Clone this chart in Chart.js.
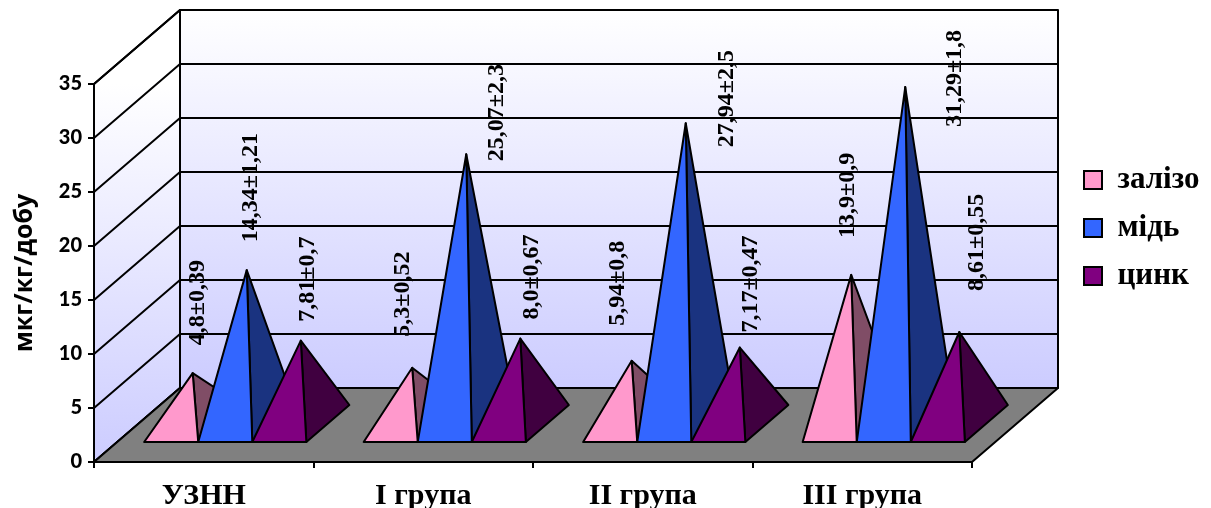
<!DOCTYPE html>
<html>
<head>
<meta charset="utf-8">
<style>
  html, body { margin: 0; padding: 0; background: #fff; }
  #chart { display: block; }
</style>
<script src="https://cdn.jsdelivr.net/npm/chart.js@4/dist/chart.umd.min.js"></script>
</head>
<body>
<canvas id="chart" width="1211" height="508"></canvas>
<script>
// Chart values
const categories = ['УЗНН', 'I група', 'II група', 'III група'];
const iron = [4.8, 5.3, 5.94, 13.9];
const copper = [14.34, 25.07, 27.94, 31.29];
const zinc = [7.81, 8.0, 7.17, 8.61];
const ironLabels = ['4,8±0,39', '5,3±0,52', '5,94±0,8', '13,9±0,9'];
const copperLabels = ['14,34±1,21', '25,07±2,3', '27,94±2,5', '31,29±1,8'];
const zincLabels = ['7,81±0,7', '8,0±0,67', '7,17±0,47', '8,61±0,55'];

// 3D look of the plot box
const depthX = 86;
const depthY = 74;
const serif = '"Liberation Serif", serif';
const sans = '"Open Sans", sans-serif';

// label placement relative to the pyramid tip
const labelDx = [[5, -9, -14, -3], [4, 31, 41, 50], [7, 11, 11, 17]];
const labelGap = [[28, 31, 35, 37], [28, -7, -24, -40], [19, 19, 15, 41]];
const darkColors = ['#804d66', '#1a3380', '#400040'];

function polygon(ctx, pts, fill) {
    ctx.beginPath();
    pts.forEach((p, i) => i ? ctx.lineTo(p[0], p[1]) : ctx.moveTo(p[0], p[1]));
    ctx.closePath();
    ctx.fillStyle = fill;
    ctx.fill();
    ctx.stroke();
}

function wallGradient(ctx, top, bottom) {
    const g = ctx.createLinearGradient(0, top, 0, bottom);
    g.addColorStop(0, '#ffffff');
    g.addColorStop(1, '#ccccff');
    return g;
}

// Side wall, back wall and floor
const wallsPlugin = {
    id: 'walls',
    beforeDraw(chart) {
        const ctx = chart.ctx;
        const { left, right, top, bottom } = chart.chartArea;
        const y = chart.scales.y;
        ctx.save();
        ctx.strokeStyle = '#000';
        ctx.lineWidth = 2;
        ctx.lineJoin = 'round';
        polygon(ctx, [[left, top], [left + depthX, top - depthY], [left + depthX, bottom - depthY], [left, bottom]],
            wallGradient(ctx, top, bottom));
        polygon(ctx, [[left + depthX, top - depthY], [right + depthX, top - depthY], [right + depthX, bottom - depthY], [left + depthX, bottom - depthY]],
            wallGradient(ctx, top - depthY, bottom - depthY));
        y.ticks.forEach(t => {
            const py = y.getPixelForValue(t.value);
            ctx.beginPath();
            ctx.moveTo(left, py);
            ctx.lineTo(left + depthX, py - depthY);
            ctx.lineTo(right + depthX, py - depthY);
            ctx.stroke();
        });
        polygon(ctx, [[left, bottom], [right, bottom], [right + depthX, bottom - depthY], [left + depthX, bottom - depthY]], '#808080');
        ctx.restore();
    }
};

// Bars are replaced by pyramids, positions come from the bar elements and the y scale
const pyramidPlugin = {
    id: 'pyramids',
    beforeDatasetsDraw(chart) {
        const ctx = chart.ctx;
        const y = chart.scales.y;
        const base = y.getPixelForValue(0);
        const tips = [];
        ctx.save();
        ctx.strokeStyle = '#000';
        ctx.lineWidth = 2;
        ctx.lineJoin = 'round';
        categories.forEach((c, i) => {
            chart.data.datasets.forEach((ds, d) => {
                const bar = chart.getDatasetMeta(d).data[i];
                const half = bar.width / 2;
                const frontY = base - depthY * 0.27;
                const frontX = bar.x + depthX * 0.25;
                const tipX = bar.x + depthX * 0.5;
                const tipY = y.getPixelForValue(ds.data[i]) - depthY * 0.5;
                polygon(ctx, [[frontX + half, frontY], [frontX + half + depthX * 0.5, frontY - depthY * 0.5], [tipX, tipY]], darkColors[d]);
                polygon(ctx, [[frontX - half, frontY], [frontX + half, frontY], [tipX, tipY]], ds.backgroundColor);
                tips.push({ x: tipX + labelDx[d][i], y: tipY - labelGap[d][i], text: ds.valueLabels[i] });
            });
        });
        ctx.fillStyle = '#000';
        ctx.font = 'bold 24px ' + serif;
        ctx.textAlign = 'left';
        ctx.textBaseline = 'middle';
        tips.forEach(t => {
            ctx.save();
            ctx.translate(t.x, t.y);
            ctx.rotate(-Math.PI / 2);
            ctx.fillText(t.text, 0, 0);
            ctx.restore();
        });
        ctx.restore();
        return false;
    }
};

// Legend sits higher than the chart's middle and right of the back wall
const legendPlacePlugin = {
    id: 'legendPlace',
    afterLayout(chart) {
        chart.legend.left = 1067;
        chart.legend.bottom = chart.legend.top + 288;
    }
};

const makeDataset = (label, data, valueLabels, color) => ({
    label, data, valueLabels,
    backgroundColor: color,
    borderColor: '#000',
    borderWidth: 2,
    categoryPercentage: 0.7389,
    barPercentage: 1
});

new Chart(document.getElementById('chart'), {
    type: 'bar',
    data: {
        labels: categories,
        datasets: [
            makeDataset('залізо', iron, ironLabels, '#ff99cc'),
            makeDataset('мідь', copper, copperLabels, '#3366ff'),
            makeDataset('цинк', zinc, zincLabels, '#800080')
        ]
    },
    plugins: [wallsPlugin, pyramidPlugin, legendPlacePlugin],
    options: {
        responsive: false,
        animation: false,
        layout: { padding: { top: 84, left: 0, right: 0, bottom: 0 } },
        plugins: {
            tooltip: { enabled: false },
            legend: {
                position: 'right',
                labels: {
                    color: '#000',
                    font: { family: serif, weight: 'bold', size: 31 },
                    boxWidth: 18,
                    boxHeight: 18,
                    padding: 17
                }
            }
        },
        scales: {
            x: {
                grid: { offset: true, drawOnChartArea: false, color: '#000', lineWidth: 2, tickLength: 6 },
                border: { color: '#000', width: 2 },
                ticks: { color: '#000', padding: 10, maxRotation: 0, font: { family: serif, weight: 'bold', size: 30 } },
                afterFit(scale) { scale.height = 46; }
            },
            y: {
                min: 0,
                max: 35,
                grid: { drawOnChartArea: false, color: '#000', lineWidth: 2, tickLength: 6 },
                border: { color: '#000', width: 2 },
                ticks: { stepSize: 5, color: '#000', padding: 6, font: { family: 'Lato, sans-serif', weight: '900', size: 20 } },
                title: { display: true, text: 'мкг/кг/добу', color: '#000', padding: { top: 10, bottom: 0 }, font: { family: sans, weight: 'bold', size: 25 } },
                afterFit(scale) { scale.width = 94; }
            },
            // empty axis, only keeps room for the depth of the back wall
            spacer: {
                position: 'right',
                grid: { display: false },
                border: { display: false },
                ticks: { display: false },
                afterFit(scale) {
                    const legendWidth = scale.chart.legend ? scale.chart.legend.width : 0;
                    scale.width = scale.chart.width - 972 - (legendWidth || 0);
                }
            }
        }
    }
});
</script>
</body>
</html>
